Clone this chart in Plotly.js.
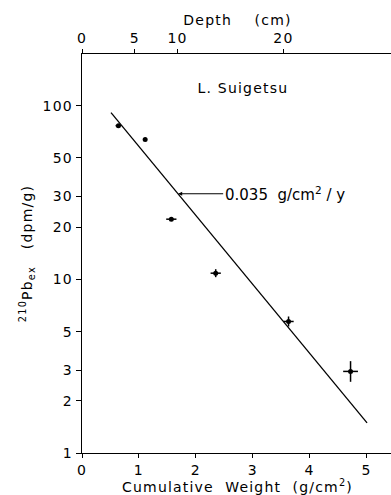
<!DOCTYPE html>
<html>
<head>
<meta charset="utf-8">
<script src="https://cdn.plot.ly/plotly-3.0.1.min.js"></script>
<style>
html,body{margin:0;padding:0;overflow:hidden;background:#fff;}
#chart{width:393px;height:495px;}
#chart text{letter-spacing:1.2px;}
#chart .annotation text{letter-spacing:0;}
</style>
</head>
<body>
<div id="chart"></div>
<script>
// Measured points: cumulative weight (g/cm2) vs excess 210Pb (dpm/g)
const weight = [0.64, 1.11, 1.57, 2.35, 3.63, 4.72];
const pb210 = [76.7, 63.9, 22.2, 10.85, 5.72, 2.95];
const weightErr = [0.05, 0, 0.09, 0.09, 0.09, 0.13];
const pbErrPlus = [0, 0, 0, 0.59, 0.39, 0.43];
const pbErrMinus = [0, 0, 0, 0.56, 0.37, 0.38];

// Fitted line (0.035 g/cm2/y)
const fitWeight = [0.51, 5.01];
const fitPb = [91.2, 1.49];

// Axis ticks
const yTicks = [1, 2, 3, 5, 10, 20, 30, 50, 100];
const xTicks = [0, 1, 2, 3, 4, 5];
const depthTickPos = [0, 0.93, 1.68, 3.54];   // cumulative weight at given depth
const depthLabels = ['0', '5', '10', '20'];

// Arrow annotation point on the fit line
const arrowX = 1.69;
const arrowY = 31.1;

const font = {family: 'DejaVu Sans, sans-serif', color: '#000', size: 14};

const traces = [
  {
    x: fitWeight, y: fitPb, mode: 'lines', type: 'scatter',
    line: {color: '#000', width: 1.3}, hoverinfo: 'skip', showlegend: false
  },
  {
    x: weight, y: pb210, mode: 'markers', type: 'scatter',
    marker: {color: '#000', size: 5},
    error_x: {type: 'data', array: weightErr, visible: true, color: '#000', thickness: 1.5, width: 0},
    error_y: {type: 'data', symmetric: false, array: pbErrPlus, arrayminus: pbErrMinus, visible: true, color: '#000', thickness: 1.5, width: 0},
    showlegend: false
  },
  // top (depth) axis carrier
  {x: depthTickPos, y: [1, 1, 1, 1], xaxis: 'x2', yaxis: 'y', type: 'scatter', mode: 'markers',
   marker: {opacity: 0}, showlegend: false, hoverinfo: 'skip'}
];

const layout = {
  width: 393, height: 495,
  margin: {l: 82, r: 0, t: 54, b: 42},
  paper_bgcolor: '#fff', plot_bgcolor: '#fff',
  font: font,
  showlegend: false,
  title: {
    text: 'L. Suigetsu', font: {family: font.family, size: 14, color: '#000'},
    x: 0.618, xanchor: 'center', y: 0.822, yanchor: 'middle', xref: 'container', yref: 'container'
  },
  xaxis: {
    range: [0, 5.466], showgrid: false, zeroline: false,
    showline: true, linecolor: '#000', linewidth: 1.3, mirror: false,
    ticks: 'outside', ticklen: 4, tickcolor: '#000',
    tickvals: xTicks, ticktext: xTicks.map(String),
    tickfont: {family: font.family, size: 14, color: '#000'},
    title: {text: 'Cumulative  Weight  (g/cm<sup>2</sup>)', standoff: 2, font: {family: font.family, size: 14, color: '#000'}}
  },
  xaxis2: {
    overlaying: 'x', side: 'top', range: [0, 5.466],
    showgrid: false, zeroline: false,
    showline: true, linecolor: '#000', linewidth: 1.3,
    ticks: 'outside', ticklen: 4, tickcolor: '#000',
    tickvals: depthTickPos, ticktext: depthLabels,
    tickfont: {family: font.family, size: 14, color: '#000'},
    title: {text: 'Depth    (cm)', standoff: 1, font: {family: font.family, size: 14, color: '#000'}}
  },
  yaxis: {
    type: 'log', range: [0, 2.2975], showgrid: false, zeroline: false,
    showline: true, linecolor: '#000', linewidth: 1.3, mirror: false,
    ticks: 'outside', ticklen: 5, tickcolor: '#000',
    tickvals: yTicks, ticktext: yTicks.map(String),
    tickfont: {family: font.family, size: 14, color: '#000'},
    title: {text: '<sup>210</sup>Pb<sub>ex</sub>   (dpm/g)', standoff: 10, font: {family: font.family, size: 14, color: '#000'}}
  },
  annotations: [
    {
      x: arrowX, y: Math.log10(arrowY), xref: 'x', yref: 'y',
      text: '0.035  g/cm<sup>2</sup> / y', showarrow: true,
      arrowhead: 2, arrowsize: 0.8, arrowwidth: 1, arrowcolor: '#000',
      ax: 45, ay: 0, xanchor: 'left', yanchor: 'middle',
      font: {family: font.family, size: 15, color: '#000'}
    }
  ]
};

Plotly.newPlot('chart', traces, layout, {displayModeBar: false, staticPlot: true});
</script>
</body>
</html>
